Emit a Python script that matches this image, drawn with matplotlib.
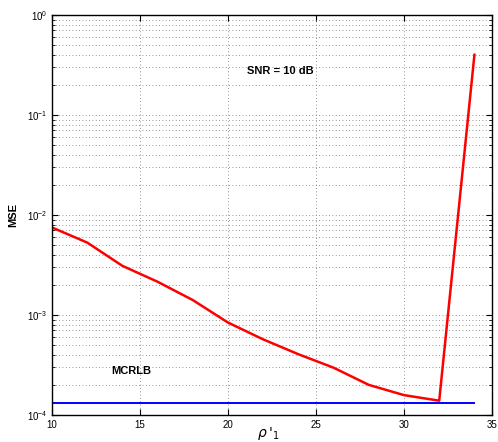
import numpy as np
import matplotlib
matplotlib.use("Agg")
import matplotlib.pyplot as plt

rho = [10, 12, 14, 16, 18, 20, 22, 24, 26, 28, 30, 32, 34]
mse = [7.5e-3, 5.3e-3, 3.1e-3, 2.15e-3, 1.41e-3, 8.4e-4, 5.7e-4, 4.05e-4,
       2.97e-4, 2.0e-4, 1.58e-4, 1.39e-4, 0.4]
mcrlb = [1.31e-4] * len(rho)

plt.rcParams['font.family'] = ['Liberation Sans', 'DejaVu Sans']

fig = plt.figure(figsize=(4.98, 4.42), dpi=100)
ax = fig.add_axes([0.1044, 0.0611, 0.8836, 0.905])

ax.plot(rho, mse, color="red", linewidth=1.8)
ax.plot(rho, mcrlb, color="blue", linewidth=1.4)

ax.set_yscale("log")
ax.set_xlim(10, 35)
ax.set_ylim(1e-4, 1)
ax.set_xticks([10, 15, 20, 25, 30, 35])
grid_style = dict(linestyle=(0, (1, 3)), color="0.45", linewidth=0.6)
ax.grid(True, which="major", axis="x", **grid_style)
ax.grid(True, which="both", axis="y", **grid_style)
ax.tick_params(which="both", direction="in", top=True, right=True, labelsize=7)
ax.tick_params(which="major", length=4)
ax.tick_params(which="minor", length=2)
for s in ax.spines.values():
    s.set_linewidth(1.0)

ax.text(22.95, 10**-0.56, "SNR = 10 dB", fontsize=8, fontweight="bold",
        ha="center", va="center")
ax.text(13.35, 2.75e-4, "MCRLB", fontsize=8, fontweight="bold",
        ha="left", va="center")

ax.set_ylabel("MSE", fontsize=8, fontweight="bold", labelpad=6)
fig.text(268 / 498, 1 - 433 / 442, r"$\rho\,'_1$", fontsize=10,
         ha="center", va="center")

fig.savefig("out.png", dpi=100)
